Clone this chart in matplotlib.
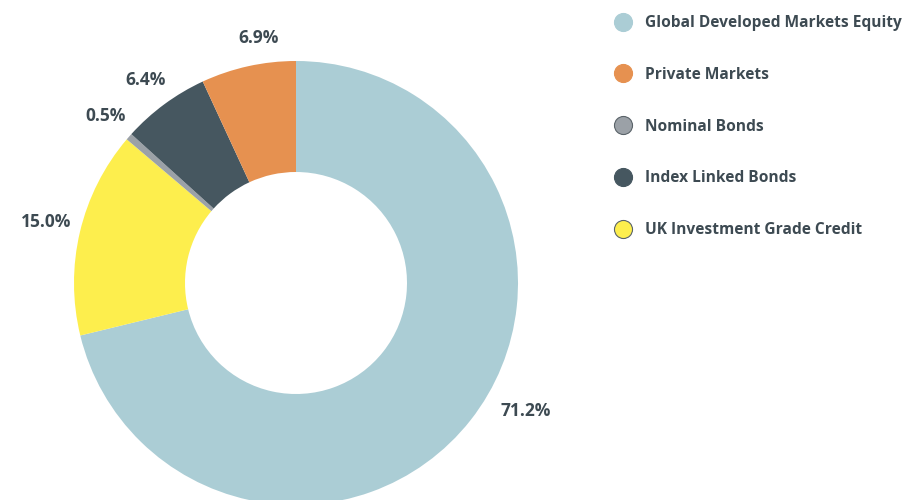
import numpy as np
import matplotlib.pyplot as plt
from matplotlib.lines import Line2D

plt.rcParams['font.family'] = ['Open Sans', 'DejaVu Sans']

# data, in drawing order (clockwise from the top)
names = ["Global Developed Markets Equity", "UK Investment Grade Credit",
         "Nominal Bonds", "Index Linked Bonds", "Private Markets"]
shares = [71.2, 15.0, 0.5, 6.4, 6.9]
colors = ["#abcdd5", "#fdee4d", "#9ba1a7", "#465760", "#e69150"]
legend_order = ["Global Developed Markets Equity", "Private Markets", "Nominal Bonds",
                "Index Linked Bonds", "UK Investment Grade Credit"]
txt = "#3d4a52"

fig = plt.figure(figsize=(9.06, 5), dpi=100)
ax = fig.add_axes([74/906, -5/500, 444/906, 444/500])
wedges, _ = ax.pie(shares, colors=colors, startangle=90, counterclock=False,
                   radius=1, wedgeprops=dict(width=0.5, edgecolor='none'))
for w in wedges:
    w.set_clip_on(False)
ax.set_xlim(-1, 1)
ax.set_ylim(-1, 1)
ax.set_aspect('equal')
ax.axis('off')

# percentage labels
for w, s in zip(wedges, shares):
    ang = np.deg2rad((w.theta1 + w.theta2) / 2)
    x, y = 1.11 * np.cos(ang), 1.11 * np.sin(ang)
    if x > 0.3:
        ha = 'left'
        x += 0.05
        y += 0.11
    else:
        ha = 'right' if x < -0.3 else 'center'
        x += 0.07
        y += 0.02
    ax.text(x, y, f"{s:.1f}%", ha=ha, va='center', fontsize=12.5,
            fontweight='bold', color=txt, clip_on=False)

# legend
handles = []
for n in legend_order:
    c = colors[names.index(n)]
    ec = '#5a6369' if n in ("Nominal Bonds", "UK Investment Grade Credit") else c
    handles.append(Line2D([], [], marker='o', linestyle='none', markersize=13,
                          markerfacecolor=c, markeredgecolor=ec, markeredgewidth=0.8))
leg = fig.legend(handles, legend_order, loc='upper left', bbox_to_anchor=(600/906, 0.998),
                 frameon=False, labelspacing=2.3, handletextpad=0.8, handlelength=1.2,
                 prop=dict(size=11.2, weight='bold'))
for t in leg.get_texts():
    t.set_color(txt)

fig.savefig("out.png", dpi=100)
